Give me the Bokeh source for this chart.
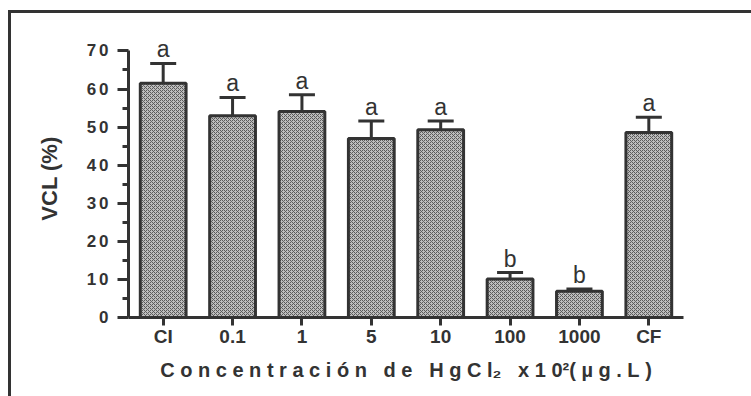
from bokeh.plotting import figure
from bokeh.models import ColumnDataSource, FactorRange, Whisker, TeeHead, FixedTicker, CustomJSTickFormatter
from bokeh.core.properties import value
from bokeh.embed import file_html
from bokeh.resources import INLINE

categories = ["CI", "0.1", "1", "5", "10", "100", "1000", "CF"]
means = [61.5, 53.0, 54.1, 47.0, 49.3, 10.1, 6.9, 48.6]
errors = [5.2, 4.8, 4.4, 4.6, 2.3, 1.7, 0.6, 4.0]
letters = ["a", "a", "a", "a", "a", "b", "b", "a"]
y_ticks = [0, 10, 20, 30, 40, 50, 60, 70]
y_minor_ticks = [5, 15, 25, 35, 45, 55, 65]

DARK = "#333333"
FONT = "Liberation Sans"

caps = [m + e for m, e in zip(means, errors)]
src = ColumnDataSource(dict(cat=categories, mean=means, cap=caps, letter=letters))

p = figure(
    x_range=FactorRange(factors=categories),
    y_range=(0, 73),
    width=743, height=386,
    min_border_left=117, min_border_right=71, min_border_top=26, min_border_bottom=82,
    output_backend="svg", toolbar_location=None,
)
p.styles = {"margin-top": "10px", "margin-left": "8px",
            "border-left": "3px solid #333333", "border-top": "3px solid #333333"}
p.outline_line_color = None
p.xgrid.visible = False
p.ygrid.visible = False

p.vbar(x="cat", top="mean", bottom=0, width=0.66, source=src,
       fill_color="#bdbdbd", hatch_pattern="x", hatch_scale=4, hatch_color="#5a5a5a", hatch_weight=1,
       line_color=DARK, line_width=3)

wh = Whisker(base="cat", lower="mean", upper="cap", source=src, dimension="height",
             line_color=DARK, line_width=3,
             upper_head=TeeHead(size=26, line_color=DARK, line_width=3), lower_head=None)
p.add_layout(wh)

p.text(x="cat", y="cap", text="letter", source=src, text_align="center", text_baseline="bottom",
       y_offset=-1, text_font=value(FONT), text_font_size="23px", text_color=DARK)

# y axis
ya = p.yaxis[0]
ya.bounds = (0, 70)
ya.ticker = FixedTicker(ticks=y_ticks, minor_ticks=y_minor_ticks)
ya.formatter = CustomJSTickFormatter(code="return tick.toFixed(0).split('').join('\u2006');")
ya.axis_line_color = DARK
ya.axis_line_width = 3
ya.major_tick_line_color = DARK
ya.major_tick_line_width = 3
ya.major_tick_out = 11
ya.major_tick_in = 0
ya.minor_tick_line_color = DARK
ya.minor_tick_line_width = 3
ya.minor_tick_out = 6
ya.minor_tick_in = 0
ya.major_label_text_font = FONT
ya.major_label_text_font_style = "bold"
ya.major_label_text_font_size = "17px"
ya.major_label_text_color = DARK
ya.major_label_standoff = 9
ya.axis_label = "VCL (%)"
ya.axis_label_text_font = FONT
ya.axis_label_text_font_style = "bold"
ya.axis_label_text_font_size = "22px"
ya.axis_label_text_color = DARK
ya.axis_label_standoff = 22

# x axis
xa = p.xaxis[0]
xa.axis_line_color = DARK
xa.axis_line_width = 3
xa.major_tick_line_color = DARK
xa.major_tick_line_width = 3
xa.major_tick_out = 8
xa.major_tick_in = 0
xa.minor_tick_line_color = None
xa.major_label_text_font = FONT
xa.major_label_text_font_style = "bold"
xa.major_label_text_font_size = "19px"
xa.major_label_text_color = DARK
xa.major_label_standoff = 0
S = "\u00a0"
title = S.join("Concentración") + S * 3 + S.join("de") + S * 3 + S.join("HgCl") + "\u2082" + S * 3 + S.join("x10") + "\u00b2" + S.join("(µg.L)")
xa.axis_label = title
xa.axis_label_text_font = FONT
xa.axis_label_text_font_style = "bold"
xa.axis_label_text_font_size = "20px"
xa.axis_label_text_color = DARK
xa.axis_label_standoff = 9

open("out.html", "w").write(file_html(p, INLINE))
